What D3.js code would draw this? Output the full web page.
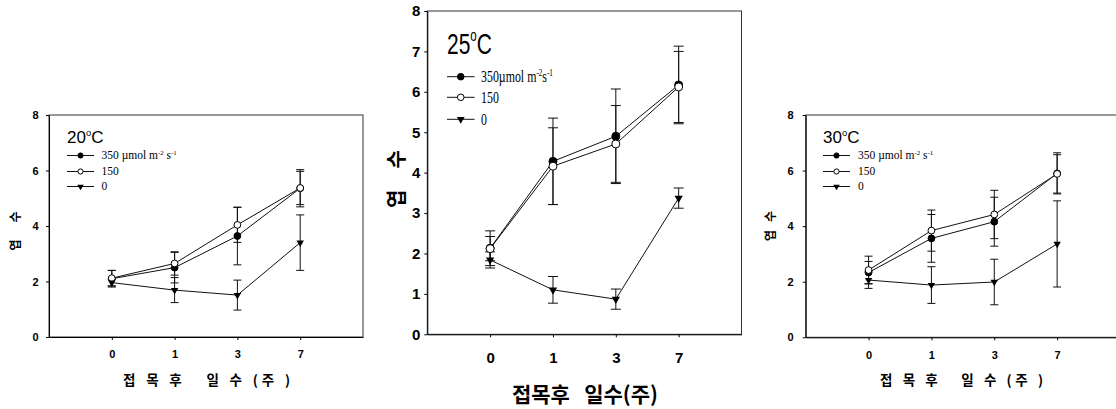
<!DOCTYPE html>
<html>
<head>
<meta charset="utf-8">
<script src="https://cdn.jsdelivr.net/npm/d3@7"></script>
<style>
  body { margin: 0; background: #fff; }
  svg { display: block; }
</style>
</head>
<body>
<div class="chart"></div>
<script>
// days after grafting
const days = ['0', '1', '3', '7'];
const seriesLabels = ['350', '150', '0'];

// 20 C
const mean20_350 = [2.10, 2.50, 3.64, 5.36];
const err20_350 = [0.30, 0.55, 1.04, 0.67];
const mean20_150 = [2.12, 2.65, 4.04, 5.37];
const err20_150 = [0.28, 0.42, 0.63, 0.60];
const mean20_0 = [1.96, 1.69, 1.51, 3.40];
const err20_0 = [0.12, 0.45, 0.54, 1.00];

// 25 C
const mean25_350 = [2.13, 4.28, 4.90, 6.17];
const err25_350 = [0.43, 1.07, 1.17, 0.96];
const mean25_150 = [2.12, 4.16, 4.71, 6.12];
const err25_150 = [0.30, 0.95, 0.95, 0.88];
const mean25_0 = [1.84, 1.10, 0.87, 3.37];
const err25_0 = [0.20, 0.33, 0.25, 0.25];

// 30 C
const mean30_350 = [2.33, 3.56, 4.16, 5.90];
const err30_350 = [0.40, 0.86, 0.88, 0.74];
const mean30_150 = [2.42, 3.84, 4.42, 5.88];
const err30_150 = [0.50, 0.74, 0.87, 0.69];
const mean30_0 = [2.06, 1.88, 1.99, 3.36];
const err30_0 = [0.30, 0.66, 0.82, 1.55];

const yTicksSmall = [0, 2, 4, 6, 8];
const yTicksBig = [0, 1, 2, 3, 4, 5, 6, 7, 8];

const W = 1116, H = 409;
const sans = '"Liberation Sans", Arial, sans-serif';
const serif = '"Liberation Serif", "Times New Roman", serif';
const kr = '"Noto Sans CJK KR", sans-serif';

const svg = d3.select('.chart').append('svg')
  .attr('width', W)
  .attr('height', H);

svg.append('rect').attr('width', W).attr('height', H).attr('fill', '#fff');

const panels = [
  {
    temp: '20', means: [mean20_350, mean20_150, mean20_0], errs: [err20_350, err20_150, err20_0],
    l: 49, r: 363, t: 115, b: 337, yTicks: yTicksSmall, big: false,
    tickFont: 11, yPad: 7.5, xPad: 10.5, cap: 4, rad: 3.4, tri: 24,
    yTitle: {x: 14, y: 231, size: 12, len: 39},
    xTitle: {text: '접 목 후   일 수 (주 )', x: 206.5, y: 378.5, size: 13.5, len: 167},
    legend: {x: 67, title: 143, titleSize: 17, rows: [155.5, 171.5, 186.5], lineW: 27, textX: 101.5, textSize: 11.5, rad: 2.6, tri: 18}
  },
  {
    temp: '25', means: [mean25_350, mean25_150, mean25_0], errs: [err25_350, err25_150, err25_0],
    l: 427.3, r: 741.5, t: 11, b: 334.3, yTicks: yTicksBig, big: true,
    tickFont: 15, yPad: 4, xPad: 15.5, cap: 5, rad: 4, tri: 30,
    yTitle: {x: 395, y: 179, size: 20, len: 58},
    xTitle: {text: '접목후   일수(주)', x: 585, y: 392.5, size: 21, len: 0},
    legend: {x: 447, title: 54, titleSize: 30, rows: [76.7, 97.3, 119.3], lineW: 27.5, textX: 481, textSize: 17, rad: 3.3, tri: 26}
  },
  {
    temp: '30', means: [mean30_350, mean30_150, mean30_0], errs: [err30_350, err30_150, err30_0],
    l: 805.7, r: 1120, t: 115, b: 337.3, yTicks: yTicksSmall, big: false,
    tickFont: 11, yPad: 9, xPad: 10.5, cap: 4, rad: 3.4, tri: 24,
    yTitle: {x: 769, y: 226, size: 12, len: 30},
    xTitle: {text: '접 목 후   일 수 (주 )', x: 961.5, y: 378.5, size: 13.5, len: 163},
    legend: {x: 823, title: 143, titleSize: 17, rows: [155.5, 171.5, 186.5], lineW: 27, textX: 858, textSize: 11.5, rad: 2.6, tri: 18}
  }
];

function drawMarker(sel, k, rad, tri) {
  if (k === 2) {
    sel.append('path')
      .attr('d', d3.symbol(d3.symbolTriangle).size(tri))
      .attr('transform', 'rotate(180)')
      .attr('fill', '#000');
  } else {
    sel.append('circle')
      .attr('r', rad)
      .attr('fill', k === 0 ? '#000' : '#fff')
      .attr('stroke', '#000')
      .attr('stroke-width', 1);
  }
}

function drawPanel(p) {
  const g = svg.append('g');

  const x = d3.scalePoint()
    .domain(days)
    .range([p.l, p.r])
    .padding(1);

  const y = d3.scaleLinear()
    .domain([0, 8])
    .range([p.b, p.t]);

  // frame
  g.append('rect')
    .attr('x', p.l).attr('y', p.t)
    .attr('width', p.r - p.l).attr('height', p.b - p.t)
    .attr('fill', 'none')
    .attr('stroke', '#333')
    .attr('stroke-width', 1);

  const xAxis = g.append('g')
    .attr('transform', `translate(0,${p.b})`)
    .call(d3.axisBottom(x).tickSize(3).tickSizeOuter(0).tickPadding(p.xPad));

  const yAxis = g.append('g')
    .attr('transform', `translate(${p.l},0)`)
    .call(d3.axisLeft(y).tickValues(p.yTicks).tickFormat(d3.format('d')).tickSize(3).tickSizeOuter(0).tickPadding(p.yPad));

  [xAxis, yAxis].forEach(a => {
    a.attr('font-family', sans).attr('font-size', p.tickFont).attr('font-weight', 'bold');
    a.selectAll('text').attr('fill', '#000');
    a.selectAll('line, path').attr('stroke', '#000');
  });

  // error bars
  p.means.forEach((m, k) => {
    const e = p.errs[k];
    const eb = g.append('g').attr('stroke', '#111').attr('stroke-width', 1);
    days.forEach((d, i) => {
      const cx = x(d);
      const y1 = y(m[i] + e[i]), y2 = y(m[i] - e[i]);
      eb.append('line').attr('x1', cx).attr('x2', cx).attr('y1', y1).attr('y2', y2);
      eb.append('line').attr('x1', cx - p.cap).attr('x2', cx + p.cap).attr('y1', y1).attr('y2', y1);
      eb.append('line').attr('x1', cx - p.cap).attr('x2', cx + p.cap).attr('y1', y2).attr('y2', y2);
    });
  });

  const line = d3.line()
    .x((v, i) => x(days[i]))
    .y(v => y(v));

  p.means.forEach(m => {
    g.append('path')
      .attr('d', line(m))
      .attr('fill', 'none')
      .attr('stroke', '#111')
      .attr('stroke-width', 1);
  });

  p.means.forEach((m, k) => {
    days.forEach((d, i) => {
      const mk = g.append('g').attr('transform', `translate(${x(d)},${y(m[i])})`);
      drawMarker(mk, k, p.rad, p.tri);
    });
  });

  // axis titles
  g.append('text')
    .attr('transform', `translate(${p.yTitle.x},${p.yTitle.y}) rotate(-90)`)
    .attr('text-anchor', 'middle')
    .attr('dominant-baseline', 'central')
    .attr('font-family', kr)
    .attr('font-weight', 'bold')
    .attr('font-size', p.yTitle.size)
    .attr('textLength', p.yTitle.len)
    .attr('lengthAdjust', 'spacing')
    .text('엽 수');

  const xt = g.append('text')
    .attr('x', p.xTitle.x)
    .attr('y', p.xTitle.y)
    .attr('text-anchor', 'middle')
    .attr('dominant-baseline', 'central')
    .attr('font-family', kr)
    .attr('font-weight', 'bold')
    .attr('font-size', p.xTitle.size)
    .attr('xml:space', 'preserve')
    .style('white-space', 'pre')
    .text(p.xTitle.text);
  if (p.xTitle.len) xt.attr('textLength', p.xTitle.len).attr('lengthAdjust', 'spacing');

  // legend
  const lg = p.legend;
  const squeeze = p.big ? 0.7 : 1;
  const tt = g.append('text')
    .attr('transform', `translate(${lg.x},${lg.title}) scale(${squeeze},1)`)
    .attr('font-family', sans)
    .attr('font-size', lg.titleSize);
  tt.append('tspan').text(p.temp);
  tt.append('tspan').attr('font-size', lg.titleSize * 0.55).attr('dy', -lg.titleSize * 0.42).text('o');
  tt.append('tspan').attr('dy', lg.titleSize * 0.42).text('C');

  seriesLabels.forEach((s, k) => {
    const ry = lg.rows[k];
    g.append('line')
      .attr('x1', lg.x).attr('x2', lg.x + lg.lineW)
      .attr('y1', ry).attr('y2', ry)
      .attr('stroke', '#111').attr('stroke-width', 1);
    const mk = g.append('g').attr('transform', `translate(${lg.x + lg.lineW / 2},${ry})`);
    drawMarker(mk, k, lg.rad, lg.tri);

    const t = g.append('text')
      .attr('transform', `translate(${lg.textX},${ry + lg.textSize * 0.33}) scale(${squeeze},1)`)
      .attr('font-family', serif)
      .attr('font-size', lg.textSize);
    if (k === 0) {
      const sup = lg.textSize * 0.6, up = lg.textSize * 0.38;
      t.append('tspan').text(p.big ? '350µmol m' : '350 µmol m');
      t.append('tspan').attr('font-size', sup).attr('dy', -up).text('-2');
      t.append('tspan').attr('dy', up).text(p.big ? 's' : ' s');
      t.append('tspan').attr('font-size', sup).attr('dy', -up).text('-1');
    } else {
      t.text(s);
    }
  });
}

panels.forEach(drawPanel);
</script>
</body>
</html>
